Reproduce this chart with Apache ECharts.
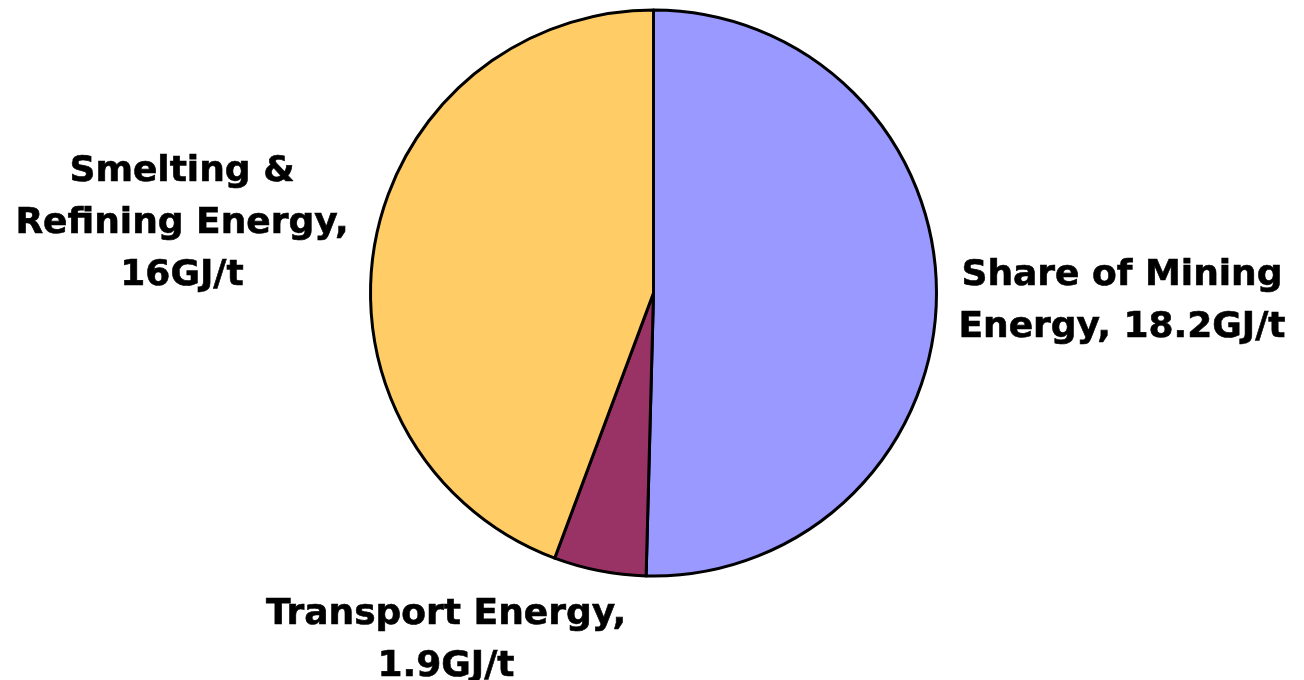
<!DOCTYPE html>
<html>
<head>
<meta charset="utf-8">
<title>Energy per tonne</title>
<script src="https://cdn.jsdelivr.net/npm/echarts@6/dist/echarts.min.js"></script>
<style>
  html, body { margin: 0; padding: 0; background: #fff; }
  #chart { width: 1304px; height: 680px; }
</style>
</head>
<body>
<div id="chart"></div>
<script>
// Energy components, GJ per tonne
const categories = ['Share of Mining\nEnergy', 'Transport Energy', 'Smelting &\nRefining Energy'];
const values = [18.2, 1.9, 16];
const unit = 'GJ/t';
const colors = ['#9999FF', '#993366', '#FFCC66'];

// label text: name, value and unit, broken where the original breaks lines
const labelText = [
  'Share of Mining\nEnergy, 18.2GJ/t',
  'Transport Energy,\n1.9GJ/t',
  'Smelting &\nRefining Energy,\n16GJ/t'
];

// label anchor points (centre of each text block)
const labelSpots = [[1122, 302], [446, 641], [182, 224]];

const chart = echarts.init(document.getElementById('chart'), null, { renderer: 'canvas' });

chart.setOption({
  backgroundColor: '#ffffff',
  animation: false,
  series: [{
    type: 'pie',
    center: [653.5, 293],
    radius: 283,
    startAngle: 90,
    clockwise: true,
    avoidLabelOverlap: false,
    data: categories.map((c, i) => ({
      name: c,
      value: values[i],
      itemStyle: { color: colors[i] }
    })),
    itemStyle: { borderColor: '#000000', borderWidth: 3 },
    emphasis: { disabled: true },
    label: {
      show: true,
      position: 'outside',
      formatter: p => labelText[p.dataIndex],
      fontFamily: 'DejaVu Sans',
      fontWeight: 'bold',
      fontSize: 36,
      lineHeight: 52,
      color: '#000000',
      textBorderColor: '#000000',
      textBorderWidth: 0.6,
      align: 'center'
    },
    labelLine: { show: false },
    labelLayout: p => ({
      x: labelSpots[p.dataIndex][0],
      y: labelSpots[p.dataIndex][1],
      align: 'center',
      verticalAlign: 'middle'
    })
  }]
});
</script>
</body>
</html>
